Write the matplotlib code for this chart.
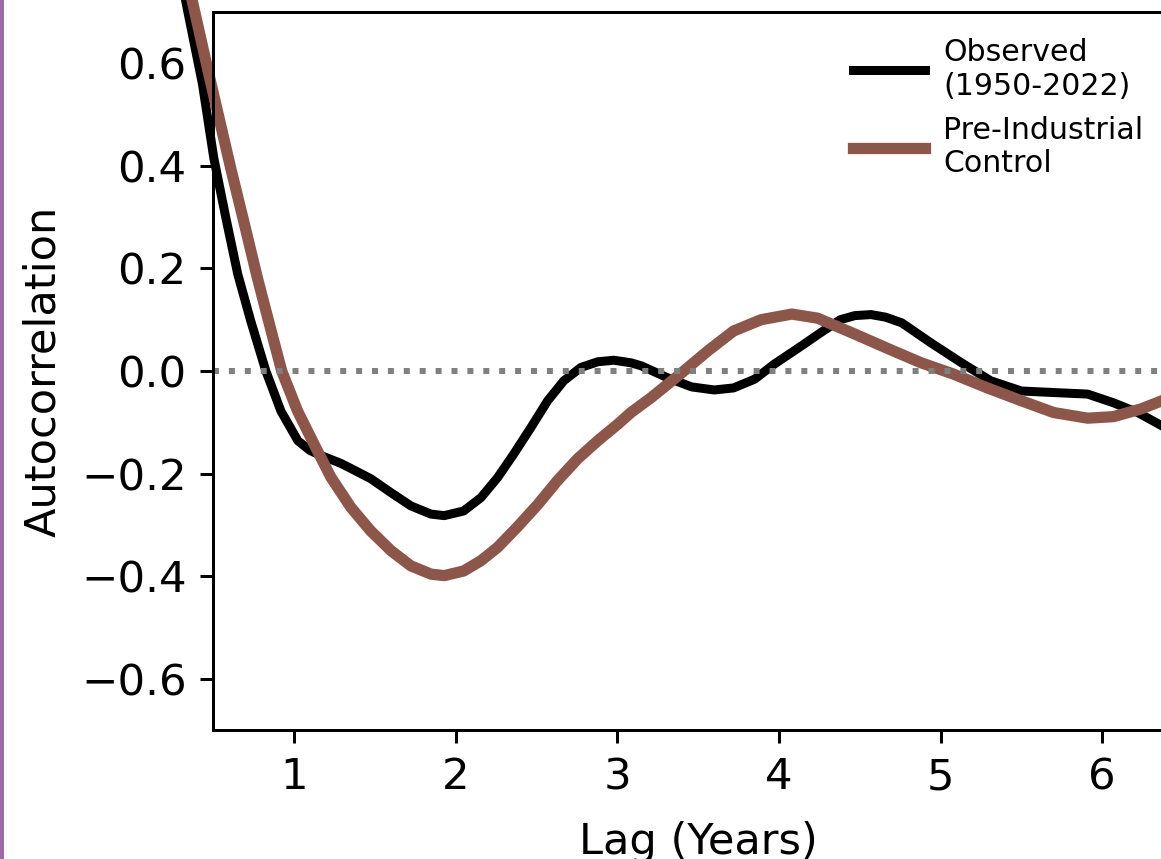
import matplotlib
matplotlib.use("Agg")
import matplotlib.pyplot as plt
from matplotlib.patches import Rectangle

# Observed (1950-2022) autocorrelation
lag_obs = [0.25, 0.332, 0.435, 0.505, 0.58, 0.653, 0.734, 0.827, 0.92, 1.025, 1.10, 1.17,
           1.29, 1.353, 1.476, 1.60, 1.724, 1.848, 1.93, 2.05, 2.157, 2.26, 2.36, 2.467,
           2.57, 2.67, 2.776, 2.88, 2.98, 3.085, 3.15, 3.31, 3.46, 3.60, 3.72, 3.85,
           3.97, 4.14, 4.26, 4.38, 4.47, 4.57, 4.66, 4.76, 4.94, 5.13, 5.31, 5.50,
           5.70, 5.91, 6.07, 6.22, 6.37, 6.50]
acf_obs = [0.85, 0.72, 0.559, 0.415, 0.298, 0.189, 0.097, 0.0, -0.078, -0.136, -0.155, -0.165,
           -0.18, -0.19, -0.21, -0.237, -0.263, -0.279, -0.282, -0.273, -0.247, -0.208, -0.162, -0.11,
           -0.058, -0.019, 0.007, 0.018, 0.021, 0.016, 0.010, -0.013, -0.031, -0.037, -0.033, -0.016,
           0.013, 0.049, 0.075, 0.100, 0.108, 0.110, 0.105, 0.094, 0.055, 0.016, -0.019, -0.039,
           -0.042, -0.045, -0.062, -0.081, -0.107, -0.13]

# Pre-Industrial Control autocorrelation
lag_pi = [0.30, 0.373, 0.466, 0.528, 0.61, 0.69, 0.775, 0.85, 0.925, 1.023, 1.124, 1.229,
          1.353, 1.476, 1.60, 1.724, 1.848, 1.93, 2.05, 2.157, 2.26, 2.38, 2.51, 2.63,
          2.756, 2.88, 3.003, 3.085, 3.21, 3.39, 3.56, 3.72, 3.89, 4.08, 4.24, 4.47,
          4.68, 4.88, 5.08, 5.29, 5.50, 5.70, 5.91, 6.07, 6.24, 6.37, 6.50]
acf_pi = [0.82, 0.72, 0.59, 0.506, 0.395, 0.292, 0.181, 0.09, 0.0, -0.078, -0.142, -0.207,
          -0.266, -0.312, -0.35, -0.38, -0.396, -0.399, -0.39, -0.37, -0.344, -0.305, -0.26, -0.214,
          -0.171, -0.136, -0.104, -0.081, -0.052, -0.006, 0.039, 0.078, 0.10, 0.111, 0.103, 0.072,
          0.043, 0.016, -0.006, -0.033, -0.058, -0.081, -0.092, -0.089, -0.074, -0.058, -0.04]

yticks = [-0.6, -0.4, -0.2, 0.0, 0.2, 0.4, 0.6]
xticks = [1, 2, 3, 4, 5, 6]

DPI = 270
fig = plt.figure(figsize=(1161 / DPI, 859 / DPI), dpi=DPI)
ax = fig.add_axes([213 / 1161, 129 / 859, 970 / 1161, 718 / 859])

ax.plot(lag_obs, acf_obs, color="black", lw=2.4, clip_on=False,
        solid_joinstyle="round", label="Observed\n(1950-2022)")
ax.plot(lag_pi, acf_pi, color="#8c564b", lw=3.0, clip_on=False,
        solid_joinstyle="round", label="Pre-Industrial\nControl")
ax.axhline(0, color="gray", ls=":", lw=1.6)

ax.set_xlim(0.5, 6.5)
ax.set_ylim(-0.7, 0.7)
ax.set_xticks(xticks)
ax.set_yticks(yticks)
ax.tick_params(labelsize=11.6)
ax.set_xlabel("Lag (Years)", fontsize=11.5, labelpad=6)
ax.set_ylabel("Autocorrelation", fontsize=11.5, labelpad=4.5)

ax.legend(loc="upper left", bbox_to_anchor=(853 / 1161, 1 - 38 / 859),
          bbox_transform=fig.transFigure, frameon=False, fontsize=8,
          handlelength=2.4, handletextpad=0.6, borderpad=0, borderaxespad=0)

# strip of the neighbouring panel on the left edge
fig.add_artist(Rectangle((0, 0), 4 / 1161, 1, transform=fig.transFigure,
                         color="#a067a8", lw=0))

fig.savefig("out.png", dpi=DPI)
